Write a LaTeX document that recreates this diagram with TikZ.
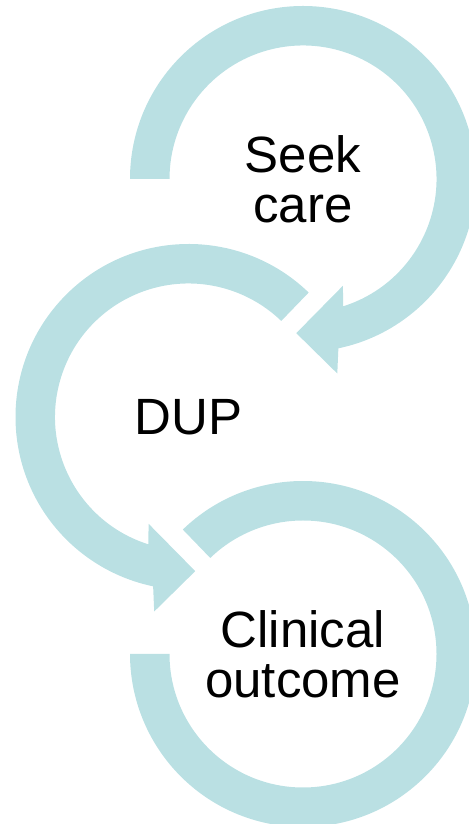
\documentclass[tikz,border=0pt]{standalone}
\usepackage{fontspec}
\setmainfont{Liberation Sans}
\usepackage{tikz}
\definecolor{ringteal}{RGB}{186,224,227}

\begin{document}
\begin{tikzpicture}[
    x=0.5pt, y=0.5pt,
    stage/.style={align=center, font=\fontsize{25.5pt}{25pt}\selectfont},
    ring/.style={fill=ringteal, draw=none}
]
\useasboundingbox (0,0) rectangle (468,824);

\node[stage] (seek) at (303,645) {Seek\\care};
\node[stage] (dup) at (188.5,407) {DUP};
\node[stage] (outcome) at (303,170) {Clinical\\outcome};

% ring round seek care, clockwise, head pointing into dup
\fill[ring] ([shift={(180:173)}]seek.center) arc[start angle=180, end angle=-78.2, radius=173]
  -- ([shift={(-80:197.5)}]seek.center) -- ([shift={(-92.5:154.3)}]seek.center)
  -- ([shift={(-69.5:114)}]seek.center) -- ([shift={(-72.5:133.5)}]seek.center)
  arc[start angle=-72.5, end angle=180, radius=133.5] -- cycle;

% ring round dup, counterclockwise, head pointing into outcome
\fill[ring] ([shift={(46:173)}]dup.center) arc[start angle=46, end angle=258.2, radius=173]
  -- ([shift={(260:197.5)}]dup.center) -- ([shift={(272.5:154.3)}]dup.center)
  -- ([shift={(249.5:114)}]dup.center) -- ([shift={(252.5:133.5)}]dup.center)
  arc[start angle=252.5, end angle=46, radius=133.5] -- cycle;

% open ring round outcome
\fill[ring] ([shift={(134:173)}]outcome.center) arc[start angle=134, end angle=-180, radius=173]
  -- ([shift={(180:133.5)}]outcome.center)
  arc[start angle=-180, end angle=134, radius=133.5] -- cycle;
\end{tikzpicture}
\end{document}
